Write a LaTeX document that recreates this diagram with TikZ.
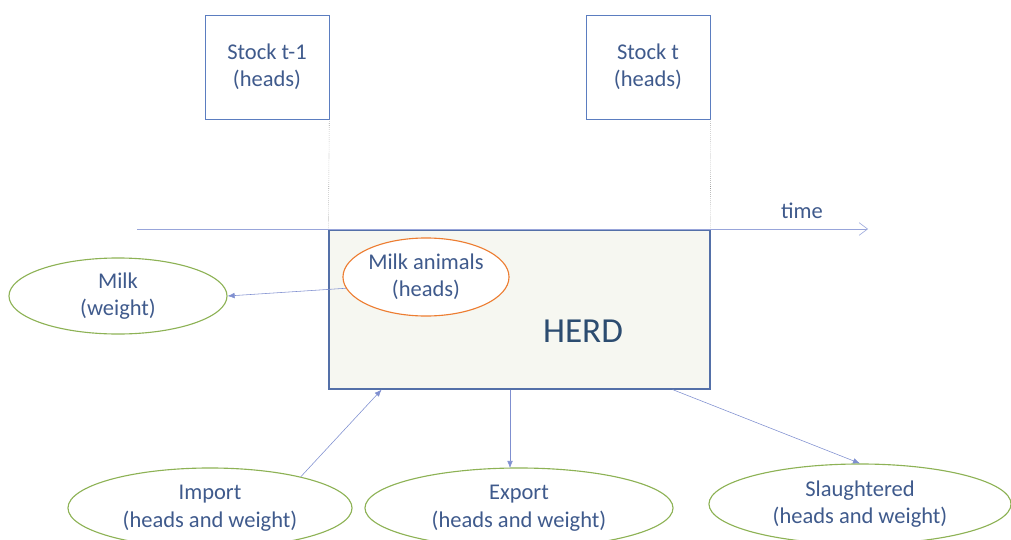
\documentclass[tikz,border=0pt]{standalone}
\usepackage{fontspec}
\setmainfont{Carlito}
\usepackage{tikz}
\usetikzlibrary{shapes.geometric,arrows.meta}
\definecolor{txtblue}{HTML}{3F5A8C}
\definecolor{herdtxt}{HTML}{2C4C70}
\definecolor{boxblue}{HTML}{5B7DC0}
\definecolor{herdline}{HTML}{5470A8}
\definecolor{herdfill}{HTML}{F6F7F1}
\definecolor{flowblue}{HTML}{7F8FD0}
\definecolor{ovalgreen}{HTML}{8DB255}
\definecolor{ovalorange}{HTML}{ED7D31}

\begin{document}
\begin{tikzpicture}[x=0.025cm,y=-0.025cm,
    every node/.style={text=txtblue,font=\fontsize{16}{19.5}\selectfont,align=center},
    stockbox/.style={draw=boxblue,minimum width=3.1cm,minimum height=2.6cm},
    flowoval/.style={ellipse,draw=ovalgreen,thick,minimum width=#1,minimum height=2cm,inner sep=0pt},
    flow/.style={draw=flowblue,-{Latex[length=5pt,width=4pt]}}]
            \useasboundingbox (0,0) rectangle (1011,539);
            \clip (0,0) rectangle (1011,539);
            \node[stockbox] (prev) at (267,67) {Stock t-1\\(heads)};
            \node[stockbox] (next) at (648,67) {Stock t\\(heads)};
            \node[draw=herdline,thick,fill=herdfill,minimum width=9.525cm,minimum height=3.975cm] (herd) at (519.5,309.5) {};
            \node[font=\fontsize{25}{30}\selectfont,text=herdtxt] (herdlabel) at (583,331) {HERD};
            \draw[densely dotted,gray!80] (prev.south east) -- (herd.north west);
            \draw[densely dotted,gray!80] (next.south east) -- (herd.north east);
            \coordinate (tstart) at (137,229);
            \coordinate (tend) at (868,229);
            \draw[flowblue!80,-{Straight Barb[length=6pt,width=9pt]}] (tstart) -- (tend);
            \node (timelabel) at (802,211) {time};
            \node[ellipse,draw=ovalorange,thick,fill=white,minimum width=4.15cm,minimum height=1.95cm,inner sep=0pt] (milkanim) at (426,277) {Milk animals\\(heads)};
            \node[flowoval=5.45cm,minimum height=1.9cm] (milk) at (118,296) {Milk\\(weight)};
            \node[flowoval=7.1cm] (import) at (210,508) {Import\\(heads and weight)};
            \node[flowoval=7.7cm] (export) at (519,508) {Export\\(heads and weight)};
            \node[flowoval=7.55cm] (slaughter) at (860,504) {Slaughtered\\(heads and weight)};
            \draw[flow] (milkanim.188) -- (milk.east);
            \draw[flow] (import.19) -- ([xshift=1.33cm]herd.south west);
            \draw[flow] (herd.south -| 510,0) -- (510,468);
            \draw[flow] ([xshift=-0.95cm]herd.south east) -- (slaughter.north);
        \end{tikzpicture}
\end{document}
